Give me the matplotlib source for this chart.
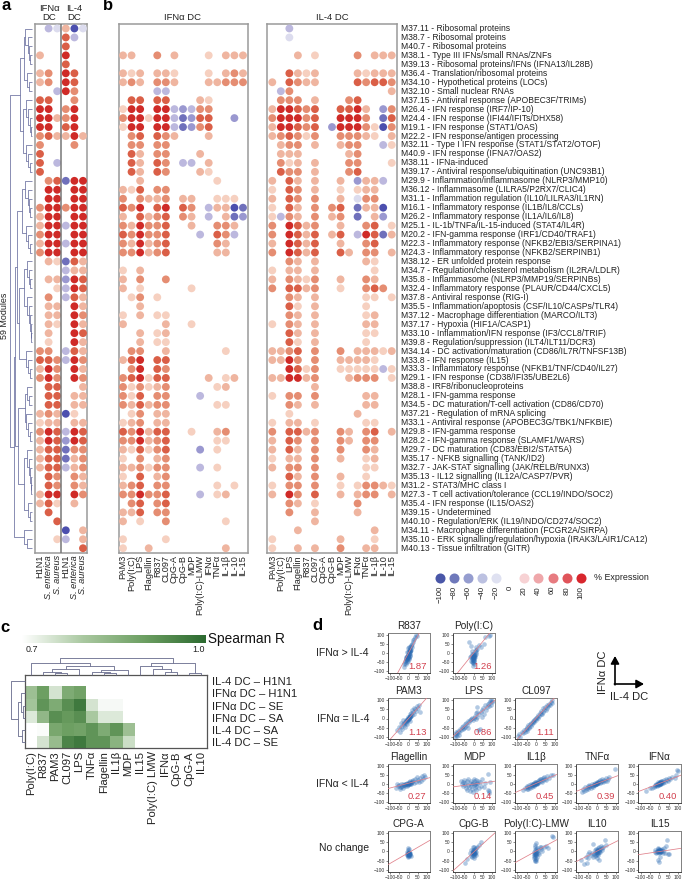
import numpy as np
import matplotlib
matplotlib.use('Agg')
import matplotlib.pyplot as plt
from matplotlib.colors import LinearSegmentedColormap

plt.rcParams['font.family'] = ['Liberation Sans', 'DejaVu Sans']

W, H = 685, 881

MODULES = """M37.11 - Ribosomal proteins
M38.7 - Ribosomal proteins
M40.7 - Ribosomal proteins
M38.1 - Type III IFNs/small RNAs/ZNFs
M39.13 - Ribosomal proteins/IFNs (IFNA13/IL28B)
M36.4 - Translation/ribosomal proteins
M34.10 - Hypothetical proteins (LOCs)
M32.10 - Small nuclear RNAs
M37.15 - Antiviral response (APOBEC3F/TRIMs)
M26.4 - IFN response (IRF7/IP-10)
M24.4 - IFN response (IFI44/IFITs/DHX58)
M19.1 - IFN response (STAT1/OAS)
M22.2 - IFN response/antigen processing
M32.11 - Type I IFN response (STAT1/STAT2/OTOF)
M40.9 - IFN response (IFNA7/OAS2)
M38.11 - IFNa-induced
M39.17 - Antiviral response/ubiquitination (UNC93B1)
M29.9 - Inflammation/inflammasome (NLRP3/MMP10)
M36.12 - Inflammasome (LILRA5/P2RX7/CLIC4)
M31.1 - Inflammation regulation (IL10/LILRA3/IL1RN)
M16.1 - Inflammatory response (IL1B/IL8/CCLs)
M26.2 - Inflammatory response (IL1A/IL6/IL8)
M25.1 - IL-1b/TNFa/IL-15-induced (STAT4/IL4R)
M20.2 - IFN-gamma response (IRF1/CD40/TRAF1)
M22.3 - Inflammatory response (NFKB2/EBI3/SERPINA1)
M24.3 - Inflammatory response (NFKB2/SERPINB1)
M38.12 - ER unfolded protein response
M34.7 - Regulation/cholesterol metabolism (IL2RA/LDLR)
M35.8 - Inflammasome (NLRP3/MMP19/SERPINBs)
M32.4 - Inflammatory response (PLAUR/CD44/CXCL5)
M37.8 - Antiviral response (RIG-I)
M35.5 - Inflammation/apoptosis (CSF/IL10/CASPs/TLR4)
M37.12 - Macrophage differentiation (MARCO/ILT3)
M37.17 - Hypoxia (HIF1A/CASP1)
M33.10 - Inflammation/IFN response (IF3/CCL8/TRIF)
M39.8 - Regulation/suppression (ILT4/ILT11/DCR3)
M34.14 - DC activation/maturation (CD86/IL7R/TNFSF13B)
M33.8 - IFN response (IL15)
M33.3 - Inflammatory response (NFKB1/TNF/CD40/IL27)
M29.1 - IFN response (CD38/IFI35/UBE2L6)
M38.8 - IRF8/ribonucleoproteins
M28.1 - IFN-gamma response
M34.5 - DC maturation/T-cell activation (CD86/CD70)
M37.21 - Regulation of mRNA splicing
M33.1 - Antiviral response (APOBEC3G/TBK1/NFKBIE)
M29.8 - IFN-gamma response
M28.2 - IFN-gamma response (SLAMF1/WARS)
M29.7 - DC maturation (CD83/EBI2/STAT5A)
M35.17 - NFKB signalling (TANK/ID2)
M32.7 - JAK-STAT signalling (JAK/RELB/RUNX3)
M35.13 - IL12 signalling (IL12A/CASP7/PVR)
M31.2 - STAT3/MHC class I
M27.3 - T cell activation/tolerance (CCL19/INDO/SOC2)
M35.4 - IFN response (IL15/OAS2)
M39.15 - Undetermined
M40.10 - Regulation/ERK (IL19/INDO/CD274/SOC2)
M34.11 - Macrophage differentiation (FCGR2A/SIRPA)
M35.10 - ERK signalling/regulation/hypoxia (IRAK3/LAIR1/CA12)
M40.13 - Tissue infiltration (GITR)""".split('\n')

# Dot grids: one character per cell; digits 1-5 = +20..+100 %, a-e = -20..-100 %
PATHOGEN_GRID = """.ba2ea
...4b.
...4..
2..5..
...4..
23.54.
23.54.
..b53.
44..3.
55.35.
55235.
55.45.
342252
3...3.
4.....
4.b...
4.....
.34d55
.55.55
.55.55
355355
255.55
255b55
355.55
255b55
355.55
.21d42
...b22
.22c54
..1b54
.3.b42
.22.52
.22.53
.21.52
.2..54
.1..52
33.b42
443b53
253.52
353.53
.44..2
.44.22
.44.22
232e1.
122.22
354b54
254c54
244d33
244d23
244b23
.43.32
.43.32
255.53
241.2.
.4....
..4...
...e.2
..1b.2
.....4""".split('\n')

IFNA_GRID = """...............
...............
...............
22..3.2...1.222
...............
212.221...1.232
232.332...22333
....bb.........
.44.44...21....
155.55bcb33....
355155bdc44..c.
155.55bdc34....
.34.432...2....
.33.33.........
.42.33...2.....
.42.43.bb.2....
.42.43...21....
..2........1...
214.33.........
3.3223.22..111.
435.45.43.b22ed
2.4234.32.b.2dc
325334..2..332.
435334...b.43b.
325234.....32..
335234.....22..
...............
1.2............
2.3..3.........
2.1.....1......
.13.1..........
..2............
1.2.11.........
2....2..1......
..2.12.........
..2.11.........
.33..2......1..
245.44.........
.35.43.........
345144....2.12.
313123.....12..
314.33...b.....
324233.....11..
.13.22.........
123.22.........
435244..1..23..
335234.....11..
214134...c.1...
1.3.23.........
223133...b.1...
1.4.23.........
234.33.....1.1.
335334...b.12..
.34.34.........
224.33.........
2.1..3......1..
...............
1....1.........
1..2........2..""".split('\n')

IL4_GRID = """..b............
..a............
...............
...2.1....3.222
...............
..4212....21222
2.4322....43443
.b3...........2
.333.2...34....
255434..4452.c3
355534..5553.d4
255434.c55531e3
234313..33321.2
.233.2..233..b1
.222.....23....
.312.2...33...1
.433.2...34....
2.42.2..2.c22b.
1.43.2..1.122..
2.43.3..2.a33..
1.42.3.34.d22e.
1b32.3.23.d.2c.
3.5423..2..34.1
3.5424.24.b54d2
2.5424..2..34..
3.5424..42.33.2
..32.2.....21..
1.22.2......1..
2.3213..2..32..
3.4423..1..343.
..32.2.....11.1
..41.2.....1...
..32.2.....12..
1.32.2.....22..
..42.2.....11..
..41.2.....1...
2234.3..3.22212
2253.3..22221..
..5413..11111b1
225523...2333.1
.....2.........
1.33.3.....22..
..32.2.....22..
..1.......2....
1.22.1.....11..
3.4423..32.34.2
2.43.3..32.33..
2.42.3..3..32..
1.22.3..2..12..
2.33.3.....11..
..42.3..2..1...
1.33.3..1.13321
2.53.4..2.233.2
..32.1....3....
..3..2....2....
.....2.........
...2........2..
1.......2...1..
1..2.2..3..22..""".split('\n')

PATHOGENS = ['H1N1', 'S. enterica', 'S. aureus', 'H1N1', 'S. enterica', 'S. aureus']
STIMULI = ['PAM3', 'Poly(I:C)', 'LPS', 'Flagellin', 'R837', 'CL097', 'CpG-A', 'CpG-B', 'MDP',
           'Poly(I:C)-LMW', 'IFNα', 'TNFα', 'IL-1β', 'IL-10', 'IL-15']
LEGEND_VALUES = [-100, -80, -60, -40, -20, 0, 20, 40, 60, 80, 100]

# Panel c
HEAT_COLS = ['Poly(I:C)', 'R837', 'PAM3', 'CL097', 'LPS', 'TNFα', 'Flagellin', 'IL1β', 'MDP',
             'IL15', 'Poly(I:C) LMW', 'IFNα', 'CpG-B', 'CpG-A', 'IL10']
HEAT_ROWS = ['IL-4 DC – H1N1', 'IFNα DC – H1N1', 'IFNα DC – SE', 'IFNα DC – SA', 'IL-4 DC – SA', 'IL-4 DC – SE']
HEAT_1 = [.70, .70, .70, .70, .70, .70, .70, .70, .70, .70, .70, .70, .70, .70, .70]
HEAT_2 = [.82, .90, .75, .87, .89, .70, .70, .70, .70, .70, .70, .70, .70, .70, .70]
HEAT_3 = [.81, .92, .87, .93, .97, .75, .71, .71, .70, .70, .70, .70, .70, .70, .70]
HEAT_4 = [.74, .84, .93, .91, .93, .80, .74, .74, .70, .70, .70, .70, .70, .70, .70]
HEAT_5 = [.70, .705, .88, .90, .89, .92, .87, .92, .82, .70, .70, .70, .70, .70, .70]
HEAT_6 = [.70, .75, .83, .95, .97, .92, .92, .85, .76, .70, .70, .70, .70, .70, .70]

# Panel d: values
R837_X = [-25,-22,-20,-18,-15,-15,-12,-10,-10,-8,-8,-5,-5,-5,-3,-2,0,0,2,3,5,5,8,8,10,12,12,15,18,20,22,25,30,35,40,45,-10,-5,0,5,-12,-8,-6,-4,-2,0,2,4,6,8,10,-14]
R837_Y = [-60,-75,-45,-55,-35,-60,-30,-50,-20,-40,-15,-30,-10,-45,-25,5,-20,-35,-5,15,-15,10,0,30,20,15,45,35,50,30,70,60,75,85,95,90,5,25,30,-10,-25,-35,-22,-18,-12,-8,-28,4,8,18,12,-40]
POLY_X = [-20,-15,-12,-10,-10,-8,-8,-5,-5,-5,-3,-2,-2,0,0,0,2,2,5,5,8,10,10,12,15,-12,-25,20,30,40,55,60,80,90,-8,3,-6,-4,-2,0,2,4,-3,1]
POLY_Y = [-20,-45,-15,-35,-5,-50,-25,-70,-40,-15,-30,-55,-8,-35,-20,-5,-45,-15,-25,10,-10,5,30,-5,15,35,60,20,45,30,50,85,90,95,10,-60,-30,-22,-38,-12,-28,-18,-48,-42]
PAM3_X = [-60,-50,-48,-40,-38,-35,-30,-30,-25,-22,-20,-18,-15,-15,-10,-10,-8,-5,-5,-2,0,0,3,5,5,8,10,12,15,20,20,25,30,30,35,40,45,50,55,60,-12,-6,-3,2,6,10]
PAM3_Y = [-60,-45,-70,-25,-45,-55,-30,-10,-35,-25,-45,-20,-25,-8,-15,-30,-5,-10,10,-5,0,10,5,15,-15,10,25,15,30,20,45,35,25,55,50,40,65,55,75,35,-12,-8,-4,2,6,14]
LPS_X = [-100,-98,-95,-95,-90,-88,-85,-80,-78,-75,-70,-65,-60,-55,-50,-48,-45,-40,-35,-30,-30,-25,-20,-15,-10,-5,0,5,10,12,18,20,25,30,35,40,45,50,55,60,65,70,75,80,85,90,92,95,98,100,20,45]
LPS_Y = [-100,-85,-90,-70,-80,-95,-65,-70,-90,-55,-60,-45,-55,-40,-50,-30,-45,-25,-35,-15,-50,-20,-10,-5,5,-10,5,15,-5,30,10,35,-60,25,-55,35,45,55,25,70,45,60,80,65,85,95,70,100,90,95,60,10]
CL097_X = [-95,-90,-85,-75,-70,-65,-60,-55,-50,-48,-45,-40,-38,-35,-30,-28,-25,-20,-18,-15,-10,-8,-5,0,3,5,10,12,18,20,25,30,32,38,40,45,50,52,58,60,65,70,75,80,85,88]
CL097_Y = [-95,-85,-100,-70,-80,-60,-70,-55,-65,-45,-55,-35,-50,-45,-30,-40,-25,-30,-15,-20,-10,-20,-5,5,-8,10,5,20,15,30,25,40,25,35,55,45,60,45,55,75,65,80,70,90,85,100]
FLAG_X = [-70,-60,-55,-50,-48,-45,-40,-38,-35,-30,-28,-25,-20,-18,-15,-10,-8,-5,-2,0,3,5,8,10,15,18,20,25,30,35,40,45,50,55,60,65,70,80,85,90,-22,-12,-4,4,12]
FLAG_Y = [-25,-5,-15,-10,-30,-18,-5,-20,-12,-5,-25,-10,-15,0,-5,-12,5,-3,-8,0,8,-5,5,12,-2,15,8,20,5,25,10,35,20,10,30,15,40,25,50,35,-8,-4,-2,3,4]
MDP_X = [-70,-65,-60,-55,-50,-48,-45,-40,-38,-35,-30,-28,-25,-22,-20,-15,-12,-10,-8,-5,-3,0,0,3,5,8,10,12,15,18,20,25,30,35,40,45,55,60,75,80,85,90,75]
MDP_Y = [15,-5,10,-15,20,-10,5,-25,15,-35,-10,25,-20,5,-40,-15,15,-30,-5,5,-45,-10,12,25,-25,0,-15,20,-35,5,-5,15,-25,10,-15,25,-20,5,-35,-40,-50,10,55]
IL1B_X = [-70,-60,-50,-48,-45,-40,-38,-35,-30,-28,-25,-22,-20,-18,-15,-12,-10,-8,-5,-2,0,3,5,8,10,12,15,18,20,25,30,32,38,40,45,50,55,60,70,80,90,-14,-6,2,8]
IL1B_Y = [-35,-25,-30,-15,-20,-28,-10,-18,-22,-5,-15,-8,-20,0,-5,-15,-8,5,-2,8,0,10,-5,5,15,3,20,8,25,12,25,8,30,18,35,28,20,40,30,45,48,-8,-4,2,4]
TNF_X = [-80,-75,-70,-65,-60,-55,-50,-45,-42,-40,-35,-30,-28,-25,-20,-18,-15,-10,-8,-5,-2,0,3,5,8,10,15,18,20,25,30,35,40,45,50,55,60,65,95,-16,-6,2,7]
TNF_Y = [-45,-30,-40,-20,-35,-25,-15,-30,-10,-20,-15,-22,-5,-12,-18,0,-8,-10,5,-5,0,8,-3,10,3,12,5,18,8,15,25,10,22,15,30,12,28,35,80,-7,-3,2,4]
IFN_X = [-70,-50,-40,-30,-25,-20,-18,-15,-12,-10,-8,-5,-5,-3,0,0,2,3,5,5,8,10,10,12,15,18,20,25,30,35,40,45,50,60,70,85,90,95,100,-6,-2,2,6,9]
IFN_Y = [-40,-25,-25,-20,-10,-15,-5,-8,-12,-3,-10,-5,8,0,-6,5,0,10,-3,6,2,12,-2,5,15,3,8,18,10,25,20,12,30,25,35,30,50,75,70,-2,2,4,1,6]
CPGA_X = [-10,-8,-6,-5,-4,-3,-2,-1,0,0,1,2,3,4,5,6,8,-3,2,15,-4,-2,0,2,4]
CPGA_Y = [-20,-5,-15,-25,-10,-30,-18,5,-12,-22,-8,-28,-15,-5,-20,-10,-14,15,12,-25,-16,-12,-17,-11,-14]
CPGB_X = [-45,-35,-20,-15,-12,-10,-8,-6,-5,-4,-3,-2,0,0,1,2,3,5,6,8,10,12,15,20,30,40,-5,3,-6,-3,0,3,6]
CPGB_Y = [-65,-40,-10,-25,5,-15,-30,0,-10,-20,8,-5,-15,-35,5,-10,-25,0,-15,10,-5,15,-20,25,35,50,20,25,-8,-4,-8,-5,-9]
LMW_X = [-12,-10,-8,-8,-6,-5,-5,-4,-3,-2,0,0,0,2,3,5,5,8,10,12,15,20,25,30,35,45,55,65,85,90,-5,0,-4,-2,1,3]
LMW_Y = [-15,-35,-5,-25,-45,5,-15,-55,-30,25,-10,-40,10,-20,-50,0,-30,15,-8,5,-15,20,10,25,0,20,30,15,80,75,35,45,-12,-20,-6,-14]
IL10_X = [-85,-70,-60,-50,-45,-40,-30,-25,-20,-15,-12,-10,-8,-5,-3,0,0,2,3,5,5,8,10,10,12,15,18,20,25,30,35,45,50,-20,-55,-4,0,3,6,9,12]
IL10_Y = [-45,-70,-30,-15,-35,-5,-20,-10,-30,-15,5,-25,-8,-18,10,-5,-35,5,-15,15,-8,-22,5,-45,20,-5,10,30,5,15,25,60,35,40,-65,-5,0,-6,4,-2,2]
IL15_X = [-25,-20,-15,-12,-10,-8,-6,-5,-3,-2,0,0,2,3,5,6,8,10,12,15,18,20,25,30,35,40,45,50,-5,0,3,-8,-4,-1,2,4,7]
IL15_Y = [-5,5,-8,3,-3,10,-5,2,-8,6,0,10,-4,5,-2,8,0,-6,4,12,-10,3,15,-12,30,60,-15,-15,-45,-60,-30,18,0,2,1,-1,2]

SCATTER = [
    ('R837', R837_X, R837_Y, 1.87, 0, '1.87'),
    ('Poly(I:C)', POLY_X, POLY_Y, 1.26, 0, '1.26'),
    ('PAM3', PAM3_X, PAM3_Y, 1.13, 0, '1.13'),
    ('LPS', LPS_X, LPS_Y, 0.86, 0, '0.86'),
    ('CL097', CL097_X, CL097_Y, 1.11, 0, '1.11'),
    ('Flagellin', FLAG_X, FLAG_Y, 0.27, 2, '0.27'),
    ('MDP', MDP_X, MDP_Y, 0.14, -3, '0.14'),
    ('IL1β', IL1B_X, IL1B_Y, 0.45, 0, '0.45'),
    ('TNFα', TNF_X, TNF_Y, 0.39, 0, '0.39'),
    ('IFNα', IFN_X, IFN_Y, 0.40, 0, '0.40'),
    ('CPG-A', CPGA_X, CPGA_Y, 0.58, -8, ''),
    ('CpG-B', CPGB_X, CPGB_Y, 0.90, -5, ''),
    ('Poly(I:C)-LMW', LMW_X, LMW_Y, 0.55, 0, ''),
    ('IL10', IL10_X, IL10_Y, 0.50, 0, ''),
    ('IL15', IL15_X, IL15_Y, 0.15, -2, ''),
]
GROUP_LABELS = ['IFNα > IL-4', 'IFNα = IL-4', 'IFNα < IL-4', 'No change']

# ---------- styles & layout ----------
LEVEL = {'.': np.nan, '1': 20, '2': 40, '3': 60, '4': 80, '5': 100,
         'a': -20, 'b': -40, 'c': -60, 'd': -80, 'e': -100}
DOT_COL = {20: '#f6d0c0', 40: '#efb5a0', 60: '#e58d72', 80: '#da5f47', 100: '#cf2a27',
           -20: '#dcdcee', -40: '#bcb8de', -60: '#9a98d0', -80: '#6f70bb', -100: '#4c4fae'}
LEG_COL = {100: '#d8262d', 80: '#e0545a', 60: '#e77b80', 40: '#efa7aa', 20: '#f7d2d4', 0: '#ffffff',
           -20: '#dfe1f1', -40: '#bcc1e1', -60: '#959dcf', -80: '#6f79bb', -100: '#4a57a8'}
GREY = '#9a9a9a'
TREE = '#434b86'

fig = plt.figure(figsize=(W / 100, H / 100), dpi=100)


def px_axes(x0, y0, x1, y1, **kw):
    return fig.add_axes([x0 / W, 1 - y1 / H, (x1 - x0) / W, (y1 - y0) / H], **kw)


ov = px_axes(0, 0, W, H)
ov.set_xlim(0, W)
ov.set_ylim(H, 0)
ov.axis('off')
ov.set_zorder(5)


def dots(grid, x0, x1, col0, dcol, labels, italic=False):
    ax = px_axes(x0, 24, x1, 552.7)
    vals = np.array([[LEVEL[c] for c in row] for row in grid], dtype=float)
    ys, xs = np.nonzero(~np.isnan(vals))
    colors = [DOT_COL[int(vals[j, i])] for j, i in zip(ys, xs)]
    ax.scatter(xs, ys, s=32, c=colors, linewidths=0, zorder=3)
    ax.set_xlim((x0 - col0) / dcol, (x1 - col0) / dcol)
    ax.set_ylim(58.5, -0.5)
    ax.set_yticks([])
    ax.set_xticks(range(len(labels)))
    ax.set_xticklabels(labels, rotation=90, fontsize=6.6, color='#222222')
    for t, lab in zip(ax.get_xticklabels(), labels):
        if lab.startswith('S.'):
            t.set_style('italic')
    ax.tick_params(axis='x', length=0, pad=1.6)
    for s in ax.spines.values():
        s.set_color(GREY)
        s.set_linewidth(1.1)
    return ax


ax_a = dots(PATHOGEN_GRID, 35, 87, 40, 8.6, PATHOGENS)
ax_a.axvline(2.5, color='#777777', lw=1.1, zorder=4)
dots(IFNA_GRID, 119.5, 248, 123, 8.57, STIMULI)
dots(IL4_GRID, 267.3, 396.7, 272.3, 8.53, STIMULI)

for i, m in enumerate(MODULES):
    ov.text(401.5, 28.5 + 8.96 * i, m, fontsize=6.15, va='center', ha='left', color='#222222')


# ---------- dendrograms ----------
def bush(h, rows):
    return rows[0] if len(rows) == 1 else (h, rows[0], bush(h * 0.62, rows[1:]))


def draw_tree(node, to_xy, lw=0.6, color=TREE):
    """node = leaf index or (height, child, child)."""
    if not isinstance(node, tuple):
        return node, 0.0
    h, a, b = node
    pa, ha = draw_tree(a, to_xy, lw, color)
    pb, hb = draw_tree(b, to_xy, lw, color)
    pts = [to_xy(pa, ha), to_xy(pa, h), to_xy(pb, h), to_xy(pb, hb)]
    ov.plot(*zip(*pts), color=color, lw=lw, solid_capstyle='butt')
    return (pa + pb) / 2, h


TA = (8, bush(7, [0, 1, 2, 3, 4]), bush(5, [5, 6, 7]))
TB = (9, bush(6, [8, 9, 10, 11, 12]), bush(6, [13, 14, 15, 16]))
TC = (10, bush(7, [17, 18, 19, 20, 21]), bush(6, [22, 23, 24, 25]))
TD = (8, bush(5, [26, 27, 28, 29]), bush(5, [30, 31, 32, 33, 34, 35]))
TE = bush(6, [36, 37, 38, 39])
TF = (7, bush(5, [40, 41, 42]), bush(6, [43, 44, 45, 46]))
TG = (8, bush(5, [47, 48, 49, 50, 51, 52]), bush(4, [53, 54, 55]))
TREE_A = (22, (12, TA, TB),
          (18, (17, (15, TC, (13, TD, TE)), (14, TF, TG)), bush(8, [56, 57, 58])))
draw_tree(TREE_A, lambda p, h: (32 - h, 28.5 + 8.96 * p), lw=0.5, color='#5a6096')

HX0, HX1, HY0, HY1 = 24.7, 207.3, 675, 748.3
cw, ch = (HX1 - HX0) / 15, (HY1 - HY0) / 6
TREE_TOP = (17, (12.4, 0, (9, (6, (3, 1, (2, 2, 3)), 4), (5, (3, 5, (2, 6, 7)), 8))),
            (12, (9, 9, (6, 10, (3, 11, 12))), (2, 13, 14)))
draw_tree(TREE_TOP, lambda p, h: (HX0 + cw * (p + .5), HY0 - h), lw=0.6, color='#666a8c')
TREE_LEFT = (13.7, 0, (7, (4, 1, (2, 2, 3)), (3, 4, 5)))
draw_tree(TREE_LEFT, lambda p, h: (HX0 - h, HY0 + ch * (p + .5)), lw=0.6, color='#666a8c')

# ---------- panel texts ----------
for s, x, y in [('a', 6, 6), ('b', 108, 6), ('c', 5, 627), ('d', 317, 626)]:
    ov.text(x, y, s, fontsize=12, fontweight='bold', ha='center', va='center', color='black')
ov.text(49, 13, 'IFNα\nDC', fontsize=6.8, ha='center', va='center', linespacing=1.1, color='#222222')
ov.text(74.5, 13, 'IL-4\nDC', fontsize=6.8, ha='center', va='center', linespacing=1.1, color='#222222')
ov.text(183, 18, 'IFNα DC', fontsize=6.8, ha='center', va='center', color='#222222')
ov.text(332, 18, 'IL-4 DC', fontsize=6.8, ha='center', va='center', color='#222222')
ov.text(5, 316, '59 Modules', fontsize=6.4, rotation=90, ha='center', va='center', color='#222222')

# ---------- dot legend ----------
for k, v in enumerate(LEGEND_VALUES):
    x = 440 + 14.07 * k
    if v != 0:
        ov.scatter([x], [578], s=52, color=LEG_COL[v], linewidths=0)
    ov.text(x, 586, str(v).replace('-', '−'), rotation=90, fontsize=5.6, ha='center', va='top', color='#222222')
ov.text(594, 578, '% Expression', fontsize=6.4, ha='left', va='center', color='#222222')

# ---------- panel c ----------
cmap = LinearSegmentedColormap.from_list('gr', ['#ffffff', '#a9c8a0', '#6d9f62', '#2c6a30'])
cb = px_axes(22, 635, 205.5, 643)
cb.imshow(np.linspace(0, 1, 256)[None, :], aspect='auto', cmap=cmap)
cb.axis('off')
ov.text(32, 649.5, '0.7', fontsize=6.4, ha='center', va='center', color='#222222')
ov.text(199, 649.5, '1.0', fontsize=6.4, ha='center', va='center', color='#222222')
ov.text(208.5, 639, 'Spearman R', fontsize=9.8, ha='left', va='center', color='#111111')

hm = px_axes(HX0, HY0, HX1, HY1)
heat = np.array([HEAT_1, HEAT_2, HEAT_3, HEAT_4, HEAT_5, HEAT_6])
hm.imshow(heat, aspect='auto', cmap=cmap, vmin=.7, vmax=1.0, interpolation='nearest')
hm.set_xticks(range(15))
hm.set_xticklabels(HEAT_COLS, rotation=90, fontsize=8.1, color='#222222')
hm.tick_params(axis='x', length=0, pad=2)
hm.yaxis.tick_right()
hm.set_yticks(range(6))
hm.set_yticklabels(HEAT_ROWS, fontsize=8.1, color='#222222')
hm.tick_params(axis='y', length=0, pad=3.5)
for s in hm.spines.values():
    s.set_color('#555555')
    s.set_linewidth(0.9)

# ---------- panel d ----------
COLX = [(387.7, 430), (452.9, 495), (515, 557.3), (576, 618.3), (638.3, 680.7)]
ROWY = [(632.7, 673), (698, 739), (763.8, 803.3), (830.7, 871.7)]
LAYOUT = [(0, 0), (0, 1), (1, 0), (1, 1), (1, 2), (2, 0), (2, 1), (2, 2), (2, 3), (2, 4),
          (3, 0), (3, 1), (3, 2), (3, 3), (3, 4)]
TICKS = [-100, -50, 0, 50, 100]
TICKLAB = ['−100', '−50', '0', '50', '100']
for (name, xs, ys, slope, icpt, txt), (r, c) in zip(SCATTER, LAYOUT):
    ax = px_axes(COLX[c][0], ROWY[r][0], COLX[c][1], ROWY[r][1])
    ax.scatter(xs, ys, s=11, color='#2a6ab2', alpha=0.36, linewidths=0, zorder=2)
    ax.axline((0, icpt), slope=slope, color='#e0808a', lw=0.55, zorder=3)
    ax.set_xlim(-112, 115)
    ax.set_ylim(-110, 110)
    ax.set_xticks(TICKS)
    ax.set_xticklabels(TICKLAB)
    ax.set_yticks(TICKS)
    ax.set_yticklabels(TICKLAB)
    ax.tick_params(length=1.3, width=0.4, pad=0.8, labelsize=3.5, labelcolor='#333333', color='#333333')
    for sp, col in [('left', '#444444'), ('bottom', '#444444'), ('top', '#808080'), ('right', '#808080')]:
        ax.spines[sp].set_color(col)
        ax.spines[sp].set_linewidth(0.7)
    if txt:
        ax.text(0.70, 0.17, txt, transform=ax.transAxes, color='#d2404e', fontsize=6.8, ha='center', va='center')
    ov.text(sum(COLX[c]) / 2, ROWY[r][0] - 6.5, name, fontsize=7.2, ha='center', va='center', color='#222222')

for lab, y in zip(GROUP_LABELS, [653, 719, 784, 848]):
    ov.text(369, y, lab, fontsize=7.5, ha='right', va='center', color='#222222')

ov.annotate('', xy=(615, 656), xytext=(615, 684.8),
            arrowprops=dict(arrowstyle='-|>,head_width=0.25,head_length=0.45', color='black', lw=1.2, shrinkA=0, shrinkB=0))
ov.annotate('', xy=(644, 684), xytext=(614.4, 684),
            arrowprops=dict(arrowstyle='-|>,head_width=0.25,head_length=0.45', color='black', lw=1.2, shrinkA=0, shrinkB=0))
ov.text(603, 672, 'IFNα DC', fontsize=8, rotation=90, ha='center', va='center', color='#222222')
ov.text(629, 697, 'IL-4 DC', fontsize=8, ha='center', va='center', color='#222222')

fig.savefig('out.png', dpi=100)
